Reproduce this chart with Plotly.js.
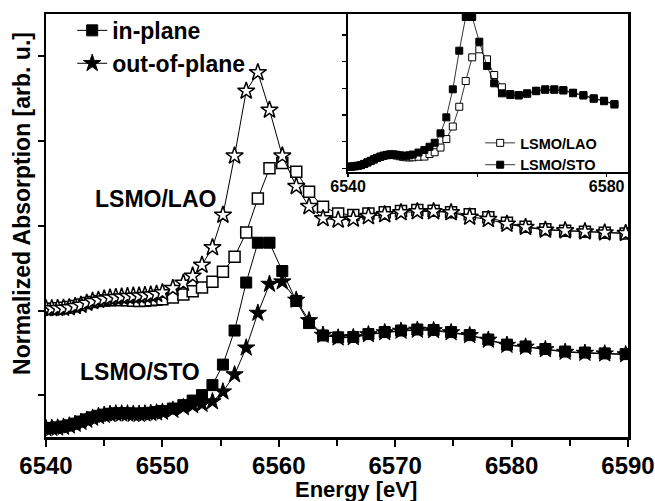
<!DOCTYPE html>
<html>
<head>
<meta charset="utf-8">
<script src="https://cdn.plot.ly/plotly-3.0.1.min.js"></script>
<style>html,body{margin:0;padding:0;background:#fff;}#chart{width:655px;height:501px;}</style>
</head>
<body>
<div id="chart"></div>
<script>
// ---- Main panel data: photon energy (eV) ----
const energy = [6540,6540.5,6541,6541.5,6542,6542.5,6543,6543.5,6544,6544.5,6545,6545.5,6546,6546.5,6547,6547.5,6548,6548.5,6549,6549.5,6550,
  6550.9,6551.8,6552.6,6553.4,6554.3,6555.2,6556.2,6557.2,6558.2,6559.2,
  6560.3,6561.5,6562.6,6563.8,6565.1,6566.4,6567.7,6569.1,6570.5,6571.9,
  6573.3,6574.8,6576.4,6578.0,6579.6,6581.2,6582.9,6584.6,6586.3,6588.0,6589.8];

// LSMO/LAO (offset curve)
const laoInPlane = [1.009,1.011,1.013,1.016,1.021,1.027,1.035,1.044,1.051,1.056,1.059,1.061,1.062,1.062,1.060,1.057,1.056,1.057,1.060,1.063,1.067,
  1.077,1.094,1.114,1.136,1.170,1.229,1.317,1.460,1.661,1.839,
  1.870,1.819,1.701,1.612,1.573,1.563,1.573,1.579,1.587,1.593,
  1.589,1.579,1.568,1.550,1.518,1.494,1.479,1.471,1.465,1.459,1.455];
const laoOutOfPlane = [1.012,1.012,1.013,1.014,1.017,1.025,1.032,1.044,1.055,1.062,1.069,1.075,1.078,1.081,1.084,1.086,1.087,1.090,1.093,1.097,1.106,
  1.131,1.162,1.204,1.268,1.372,1.563,1.912,2.295,2.404,2.183,
  1.912,1.732,1.614,1.543,1.534,1.540,1.555,1.566,1.578,1.584,
  1.584,1.578,1.552,1.538,1.510,1.491,1.475,1.471,1.465,1.459,1.455];

// LSMO/STO
const stoInPlane = [0.307,0.308,0.311,0.316,0.323,0.333,0.345,0.358,0.370,0.379,0.386,0.391,0.394,0.394,0.394,0.392,0.392,0.394,0.397,0.401,0.407,
  0.422,0.442,0.469,0.501,0.560,0.681,0.882,1.165,1.400,1.400,
  1.233,1.056,0.926,0.853,0.842,0.844,0.861,0.873,0.882,0.888,
  0.885,0.873,0.855,0.829,0.799,0.788,0.773,0.758,0.752,0.747,0.743];
const stoOutOfPlane = [0.304,0.306,0.308,0.313,0.320,0.330,0.342,0.354,0.366,0.376,0.383,0.388,0.391,0.391,0.391,0.389,0.389,0.391,0.394,0.397,0.401,
  0.413,0.428,0.440,0.448,0.463,0.521,0.622,0.780,0.985,1.156,
  1.170,1.062,0.941,0.855,0.839,0.841,0.858,0.870,0.879,0.885,
  0.882,0.870,0.853,0.826,0.796,0.785,0.770,0.755,0.749,0.745,0.740];

// ---- Inset data ----
const insetEnergy = [6540,6540.5,6541,6541.5,6542,6542.5,6543,6543.5,6544,6544.5,6545,6545.5,6546,6546.5,6547,6547.5,6548,6548.5,6549,6549.5,6550,
  6550.9,6551.8,6552.6,6553.4,6554.3,6555.2,6556.2,6557.2,6558.2,6559.2,
  6560.3,6561.5,6562.6,6563.8,6565.1,6566.4,6567.7,6569.1,6570.5,6571.9,
  6573.3,6574.8,6576.4,6578.0,6579.6,6581.2];
const insetLAO = [0.028,0.032,0.038,0.047,0.060,0.081,0.109,0.137,0.165,0.193,0.216,0.234,0.246,0.253,0.249,0.240,0.227,0.216,0.208,0.206,0.208,
  0.218,0.221,0.268,0.302,0.390,0.549,0.784,1.155,1.637,2.081,
  2.231,2.044,1.749,1.519,1.393,1.365,1.397,1.446,1.472,1.472,
  1.459,1.408,1.365,1.303,1.258,1.196];
const insetSTO = [0.030,0.034,0.039,0.049,0.062,0.084,0.113,0.141,0.169,0.197,0.221,0.240,0.253,0.263,0.263,0.255,0.244,0.236,0.236,0.244,0.259,
  0.296,0.343,0.405,0.480,0.656,0.956,1.481,2.205,2.837,2.837,
  2.374,1.918,1.594,1.406,1.374,1.374,1.406,1.455,1.481,1.481,
  1.468,1.418,1.374,1.313,1.268,1.206];

// ---- Labels ----
const seriesNames = ['in-plane', 'out-of-plane'];
const insetNames = ['LSMO/LAO', 'LSMO/STO'];
const sampleLabels = ['LSMO/LAO', 'LSMO/STO'];
const xTitle = 'Energy [eV]';
const yTitle = 'Normalized Absorption [arb. u.]';
const insetTickVals = [6540, 6560, 6580];
const insetTickText = ['6540', '', '6580'];

const BLACK = '#000000';
const FONT = 'Arial, "Liberation Sans", Helvetica, sans-serif';
const bold = (size) => ({family: FONT, size: size, color: BLACK, weight: 'bold'});

const lineStyle = {color: BLACK, width: 1};
const traces = [
  {x: energy, y: laoInPlane, type: 'scatter', mode: 'lines+markers', showlegend: false,
   line: lineStyle, marker: {symbol: 'square', size: 11, color: '#ffffff', line: {color: BLACK, width: 1.5}}},
  {x: energy, y: laoOutOfPlane, type: 'scatter', mode: 'lines+markers', showlegend: false,
   line: lineStyle, marker: {symbol: 'star', size: 13, color: '#ffffff', line: {color: BLACK, width: 1.5}}},
  {x: energy, y: stoInPlane, type: 'scatter', mode: 'lines+markers', name: seriesNames[0],
   line: lineStyle, marker: {symbol: 'square', size: 11, color: BLACK, line: {color: BLACK, width: 1}}},
  {x: energy, y: stoOutOfPlane, type: 'scatter', mode: 'lines+markers', name: seriesNames[1],
   line: lineStyle, marker: {symbol: 'star', size: 13, color: BLACK, line: {color: BLACK, width: 1}}},
  {x: insetEnergy, y: insetLAO, xaxis: 'x2', yaxis: 'y2', type: 'scatter', mode: 'lines+markers', name: insetNames[0], legend: 'legend2',
   line: {color: BLACK, width: 0.8}, marker: {symbol: 'square', size: 7, color: '#ffffff', line: {color: BLACK, width: 1}}},
  {x: insetEnergy, y: insetSTO, xaxis: 'x2', yaxis: 'y2', type: 'scatter', mode: 'lines+markers', name: insetNames[1], legend: 'legend2',
   line: {color: BLACK, width: 0.8}, marker: {symbol: 'square', size: 7, color: BLACK, line: {color: BLACK, width: 1}}}
];

const layout = {
  width: 655, height: 501,
  margin: {l: 46, r: 27, t: 14, b: 64, pad: 0, autoexpand: false},
  paper_bgcolor: '#ffffff', plot_bgcolor: '#ffffff',
  font: bold(23),
  showlegend: true,
  xaxis: {
    domain: [0, 1], range: [6540, 6590], tick0: 6540, dtick: 10,
    ticks: 'outside', ticklen: 7, tickwidth: 2, tickcolor: BLACK,
    minor: {dtick: 5, ticks: 'outside', ticklen: 6, tickwidth: 2, tickcolor: BLACK},
    showline: true, linewidth: 2.5, linecolor: BLACK, mirror: true,
    showgrid: false, zeroline: false, tickfont: bold(24), ticklabelstandoff: -1, automargin: false
  },
  yaxis: {
    domain: [0, 1], range: [0.254, 2.749], tick0: 0.5, dtick: 0.5,
    ticks: 'outside', ticklen: 6, tickwidth: 2, tickcolor: BLACK, showticklabels: false,
    showline: true, linewidth: 2.5, linecolor: BLACK, mirror: true,
    showgrid: false, zeroline: false, automargin: false
  },
  xaxis2: {
    domain: [0.519, 1], anchor: 'y2', range: [6540, 6583.3],
    tickmode: 'array', tickvals: insetTickVals, ticktext: insetTickText,
    ticks: 'outside', ticklen: 3, tickwidth: 1.5, tickcolor: BLACK,
    showline: true, linewidth: 2, linecolor: BLACK, mirror: true,
    showgrid: false, zeroline: false, tickfont: bold(16), ticklabelstandoff: -4
  },
  yaxis2: {
    domain: [0.627, 1], anchor: 'x2', range: [-0.064, 2.893], tick0: 0, dtick: 0.5,
    ticks: 'outside', ticklen: 4, tickwidth: 1.5, tickcolor: BLACK, showticklabels: false,
    showline: true, linewidth: 2, linecolor: BLACK, mirror: true,
    showgrid: false, zeroline: false
  },
  legend: {
    x: 0.045, y: 1.012, xanchor: 'left', yanchor: 'top', bgcolor: 'rgba(0,0,0,0)',
    borderwidth: 0, font: bold(23), tracegroupgap: 0
  },
  legend2: {
    x: 0.746, y: 0.733, xanchor: 'left', yanchor: 'top', bgcolor: 'rgba(0,0,0,0)',
    borderwidth: 0, font: bold(14.5), tracegroupgap: 0
  },
  annotations: [
    {text: sampleLabels[0], xref: 'paper', yref: 'paper', x: 0.189, y: 0.563, showarrow: false,
     xanchor: 'center', yanchor: 'middle', font: bold(23)},
    {text: sampleLabels[1], xref: 'paper', yref: 'paper', x: 0.1615, y: 0.154, showarrow: false,
     xanchor: 'center', yanchor: 'middle', font: bold(23)},
    {text: xTitle, xref: 'paper', yref: 'paper', x: 0.533, y: -0.124, showarrow: false,
     xanchor: 'center', yanchor: 'middle', font: bold(22)},
    {text: yTitle, xref: 'paper', yref: 'paper', x: -0.0412, y: 0.551, showarrow: false,
     textangle: -90, xanchor: 'center', yanchor: 'middle', font: bold(23)}
  ]
};

Plotly.newPlot('chart', traces, layout, {displayModeBar: false, staticPlot: true});
</script>
</body>
</html>
